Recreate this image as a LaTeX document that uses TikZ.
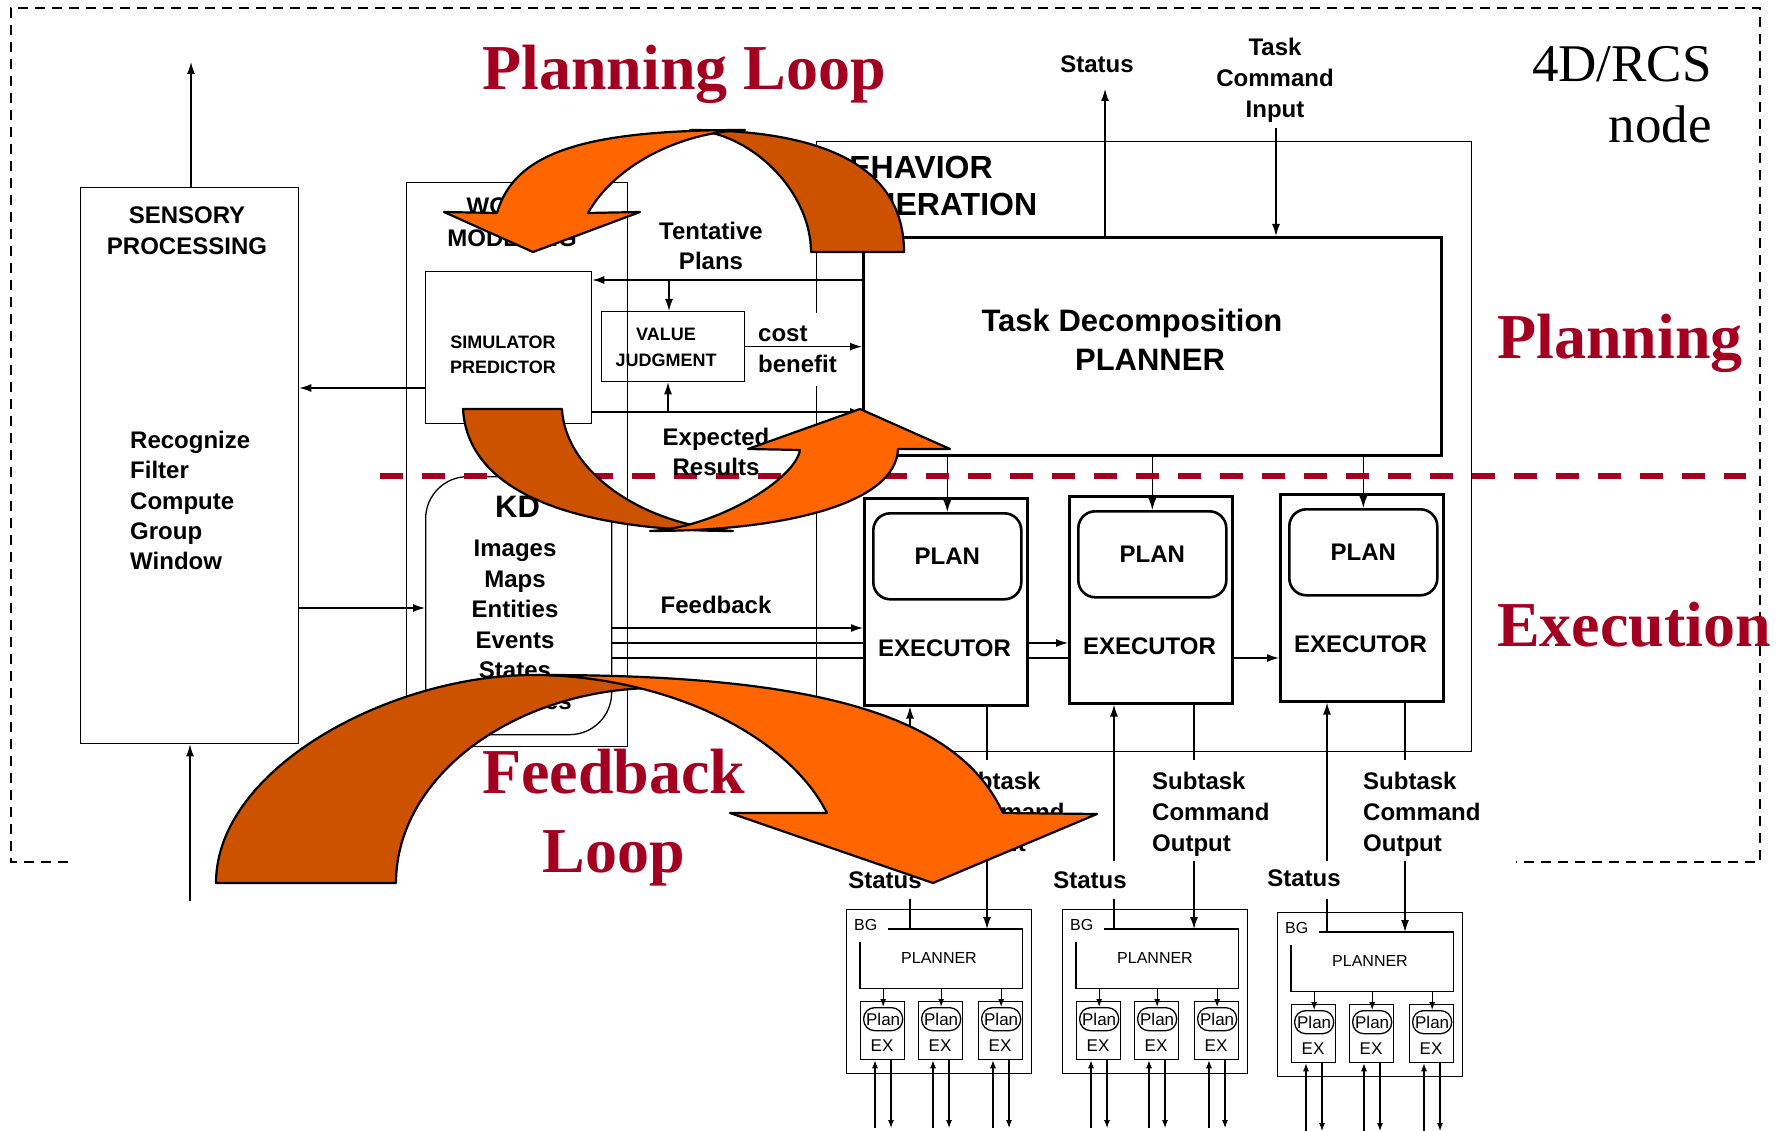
\documentclass[tikz,border=0pt]{standalone}
\usepackage{fontspec}
\setmainfont{Liberation Serif}
\setsansfont{Liberation Sans}
\usetikzlibrary{arrows.meta}
\newcommand\setfs[2]{\fontsize{#1}{#2}\selectfont}
\definecolor{loopred}{RGB}{163,0,33}
\definecolor{orlight}{RGB}{255,102,0}
\definecolor{ordark}{RGB}{204,82,0}

\begin{document}
\begin{tikzpicture}[x=1pt,y=-1pt,
  box/.style={draw,line width=1.3,inner sep=0,anchor=north west},
  hbox/.style={box,line width=2.6},
  lbl/.style={font=\sffamily\bfseries\setfs{24}{31},inner sep=0,align=center},
  midlbl/.style={font=\sffamily\bfseries\setfs{18}{25.5},inner sep=0,align=center},
  small/.style={font=\sffamily\setfs{16}{16},inner sep=0},
  tiny/.style={font=\sffamily\setfs{17}{17},inner sep=0},
  conn/.style={line width=1.3},
  arr/.style={line width=1.3,-{Latex[length=12pt,width=8pt]}},
  sarr/.style={line width=1.1,-{Latex[length=8pt,width=6pt]}},
  bigred/.style={font=\rmfamily\bfseries\setfs{64}{64},text=loopred,inner sep=0},
  bigblack/.style={font=\rmfamily\setfs{53}{53},inner sep=0},
  backpart/.style={draw=black,line width=2.2,line join=round,fill=ordark},
  frontpart/.style={draw=black,line width=2.2,line join=round,fill=orlight},
  phase/.style={draw=loopred,line width=6.5,dash pattern=on 23pt off 19pt}
]
\useasboundingbox (0,0) rectangle (1778,1131);

% node boundary
\draw[line width=2.2,dash pattern=on 10pt off 7pt]
  (68,862) -- (11,862) -- (11,8) -- (1760,8) -- (1760,862) -- (1516,862);

% ---------- main boxes ----------
\node[box,minimum width=218,minimum height=556] (sp) at (80,187) {};
\node[box,minimum width=221,minimum height=564] (wm) at (406,182) {};
\node[box,minimum width=655,minimum height=610] (bg) at (816,141) {};
\node[box,minimum width=166,minimum height=152] (sim) at (425,271) {};
\node[box,minimum width=143,minimum height=70] (vj) at (601,311) {};
\node[box,rounded corners=42,minimum width=186,minimum height=258] (kd) at (425,476) {};
\node[hbox,minimum width=578,minimum height=218] (pl) at (862,236) {};

% executors with their plans
\foreach \i/\ex/\ey in {1/863/497,2/1068/495,3/1279/493}{
  \node[hbox,minimum width=163,minimum height=207] (xe\i) at (\ex,\ey) {};
  \node[hbox,rounded corners=17,minimum width=148,minimum height=86,
        font=\sffamily\bfseries\setfs{24}{24}] (pn\i) at (\ex+9,\ey+15) {PLAN};
  \node[lbl] (xt\i) at (\ex+81.5,\ey+151) {EXECUTOR};
  \draw[arr] (pn\i.north |- pl.south) -- (pn\i.north);
}

% subordinate behavior generation blocks
\foreach \i/\ox/\oy in {1/846/909,2/1062/909,3/1277/912}{
  \node[box,minimum width=185,minimum height=164] (bgo\i) at (\ox,\oy) {};
  \node[inner sep=0,minimum width=162,minimum height=59,anchor=north west] (bgp\i) at (\ox+14,\oy+20) {};
  \draw[conn] ([xshift=28]bgp\i.north west) -- (bgp\i.north east) -- (bgp\i.south east)
     -- (bgp\i.south west) -- ([yshift=-13]bgp\i.north west);
  \node[small,anchor=base west] (bgt\i) at (\ox+8,\oy+21) {BG};
  \node[small] (bgn\i) at (\ox+93,\oy+49) {PLANNER};
  \foreach \j/\rx in {1/14,2/72,3/132}{
    \node[box,minimum width=44,minimum height=58] (mx\i\j) at (\ox+\rx,\oy+92) {};
    \node[box,rounded corners=11,minimum width=39,minimum height=23,tiny] (pp\i\j) at (\ox+\rx+3,\oy+98) {Plan};
    \node[tiny] (mxt\i\j) at (\ox+\rx+22,\oy+137) {EX};
    \draw[sarr] (pp\i\j.north |- bgp\i.south) -- (pp\i\j.north);
    \coordinate (mu\i\j) at (\ox+\rx+15,\oy+219);
    \coordinate (md\i\j) at (\ox+\rx+31,\oy+219);
    \draw[sarr] (mu\i\j) -- (mu\i\j |- mx\i\j.south);
    \draw[sarr] (md\i\j |- mx\i\j.south) -- (md\i\j);
  }
}

% ---------- phase separator ----------
\draw[phase] (380,476) -- (1746,476);

% ---------- labels ----------
\node[lbl] (tsp) at (187,231) {SENSORY\\PROCESSING};
\node[lbl,align=left,anchor=north west,font=\sffamily\bfseries\setfs{24}{30.3}] (tsf) at (130,431)
  {Recognize\\Filter\\Compute\\Group\\Window};
\node[lbl,font=\sffamily\bfseries\setfs{24}{32}] (twm) at (512,222) {WORLD\\MODELING};
\node[midlbl] (tsim) at (503,355) {SIMULATOR\\PREDICTOR};
\node[midlbl] (tvj) at (666,347.5) {VALUE\\JUDGMENT};
\node[lbl,align=left,anchor=north west,font=\sffamily\bfseries\setfs{32}{37}] (tbg) at (826,156) {BEHAVIOR\\GENERATION};
\node[lbl,font=\sffamily\bfseries\setfs{31}{31},anchor=base] (ttd) at (1132,332) {Task Decomposition};
\node[lbl,font=\sffamily\bfseries\setfs{31}{31},anchor=base] (tpl) at (1150,371) {PLANNER};
\node[lbl,font=\sffamily\bfseries\setfs{31}{31},anchor=base west] (tkd) at (495,517) {KD};
\node[lbl,anchor=north,font=\sffamily\bfseries\setfs{24}{30.5}] (tkdl) at (515,540)
  {Images\\Maps\\Entities\\Events\\States\\Attributes};
\node[lbl,font=\sffamily\bfseries\setfs{24}{30}] (ttp) at (711,246) {Tentative\\Plans};
\node[lbl,font=\sffamily\bfseries\setfs{24}{30}] (ter) at (716,452) {Expected\\Results};
\node[lbl,anchor=base] (tfb) at (716,613) {Feedback};
\node[lbl,anchor=base] (tst) at (1097,73) {Status};
\node[lbl,anchor=north] (ttc) at (1275,38) {Task\\Command\\Input};
\foreach \i/\sx/\sy/\cx in {1/885/888/947,2/1090/888/1152,3/1304/886/1363}{
  \node[lbl,anchor=base] (ts\i) at (\sx,\sy) {Status};
  \node[lbl,align=left,anchor=north west] (tsc\i) at (\cx,772) {Subtask\\Command\\Output};
}
\node[lbl,align=left,anchor=west,fill=white,inner xsep=1,inner ysep=13] (tcb) at (757,349.5) {cost\\benefit};

% ---------- connectors ----------
\coordinate (spTop) at (191,62);
\draw[arr] (spTop |- sp.north) -- (spTop);
\coordinate (spIn) at (190,901);
\draw[arr] (spIn) -- (spIn |- sp.south);
\coordinate (ySim) at (0,388);
\draw[arr] (sim.west |- ySim) -- (sp.east |- ySim);
\coordinate (yKd) at (0,608);
\draw[arr] (sp.east |- yKd) -- (kd.west |- yKd);

\coordinate (yTp) at (0,280);
\draw[arr] (pl.west |- yTp) -- (sim.east |- yTp);
\coordinate (tpB) at (669,280);
\draw[arr] (tpB) -- (tpB |- vj.north);
\draw[arr] (vj.east) -- (vj.east -| pl.west);
\coordinate (yEr) at (0,412);
\draw[arr] (sim.east |- yEr) -- (pl.west |- yEr);
\coordinate (erB) at (668,412);
\draw[arr] (erB) -- (erB |- vj.south);

\coordinate (stOut) at (1105,89);
\draw[arr] (stOut |- pl.north) -- (stOut);
\coordinate (tcIn) at (1276,128);
\draw[arr] (tcIn) -- (tcIn |- pl.north);

% feedback to the executors
\coordinate (fa) at (0,628);
\coordinate (fb) at (0,643);
\coordinate (fc) at (0,658);
\draw[arr] (kd.east |- fa) -- (xe1.west |- fa);
\draw[conn] (kd.east |- fb) -- (xe1.west |- fb);
\draw[conn] (kd.east |- fc) -- (xe1.west |- fc);
\draw[arr] (xe1.east |- fb) -- (xe2.west |- fb);
\draw[conn] (xe1.east |- fc) -- (xe2.west |- fc);
\draw[arr] (xe2.east |- fc) -- (xe3.west |- fc);

% status and subtask commands between executors and subordinate blocks
\foreach \i/\sx/\cx in {1/910/987,2/1114/1194,3/1327/1405}{
  \coordinate (su\i) at (\sx,861);
  \draw[arr] (su\i) -- (su\i |- xe\i.south);
  \coordinate (sl\i) at (\sx,899);
  \draw[conn] (sl\i |- bgp\i.north) -- (sl\i);
  \coordinate (co\i) at (\cx,760);
  \draw[conn] (co\i |- xe\i.south) -- (co\i);
  \coordinate (ci\i) at (\cx,861);
  \draw[arr] (ci\i) -- (ci\i |- bgp\i.north);
}

% ---------- loop arrows ----------
% planning loop, upper arch
\path[backpart] (811,252) -- (904,252) .. controls (904,150) and (790,130) .. (690,130)
   .. controls (750,131) and (811,191) .. (811,252) -- cycle;
\path[frontpart] (497,213) .. controls (515,150) and (590,130) .. (745,130)
   .. controls (680,132) and (615,165) .. (588,213) -- (640,212) -- (533,252) -- (444,212) -- cycle;
% planning loop, lower arch
\path[backpart] (463,409) -- (562,409) .. controls (565,470) and (640,525) .. (733,531)
   .. controls (580,531) and (468,495) .. (463,409) -- cycle;
\path[frontpart] (898,449) .. controls (896,505) and (780,531) .. (650,531)
   .. controls (715,528) and (795,480) .. (800,450) -- (748,449) -- (860,409) -- (950,449) -- cycle;
% feedback loop
\path[backpart] (216,883) .. controls (216,768) and (391,675) .. (533,675)
   .. controls (585,675) and (628,681) .. (655,688)
   .. controls (515,689) and (396,776) .. (396,883) -- cycle;
\path[frontpart] (1003,813) .. controls (960,720) and (830,675) .. (545,675)
   .. controls (680,680) and (790,740) .. (827,813) -- (730,813) -- (933,883) -- (1097,814) -- cycle;

% ---------- titles ----------
\node[bigred,anchor=base west] (hPL) at (482,90) {Planning Loop};
\node[bigred,anchor=base west] (hP) at (1497,359) {Planning};
\node[bigred,anchor=base west] (hE) at (1497,646) {Execution};
\node[bigred,anchor=base] (hF1) at (614,793) {Feedback};
\node[bigred,anchor=base] (hF2) at (614,872) {Loop};
\node[bigblack,anchor=base east] (h4d) at (1712,82) {4D/RCS};
\node[bigblack,anchor=base east] (hnode) at (1712,143) {node};
\end{tikzpicture}
\end{document}
